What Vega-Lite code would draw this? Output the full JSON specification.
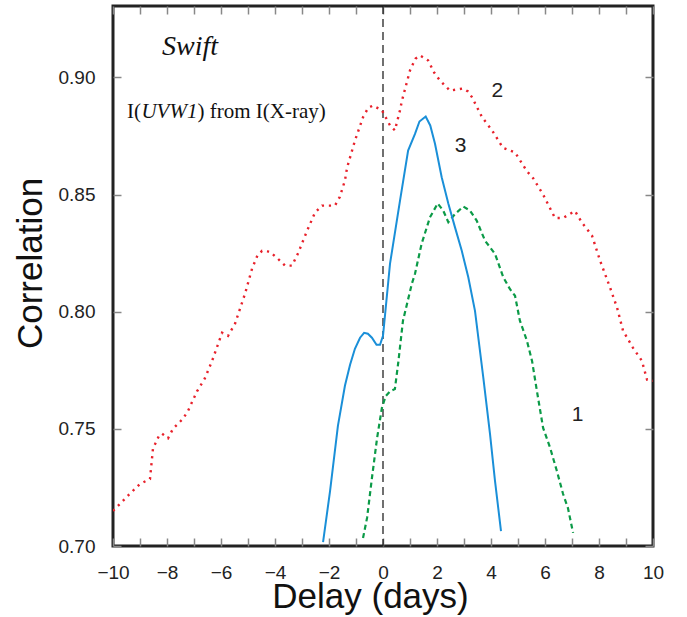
{
  "$schema": "https://vega.github.io/schema/vega-lite/v6.json",
  "width": 540,
  "height": 540,
  "autosize": {"type": "none"},
  "padding": {"left": 113, "top": 6, "right": 34, "bottom": 71},
  "background": "white",
  "config": {
    "view": {"stroke": "#222", "strokeWidth": 3},
    "axis": {
      "domain": false,
      "grid": false,
      "tickColor": "#888",
      "tickWidth": 1.5,
      "tickSize": 8,
      "offset": -8,
      "labelFont": "Liberation Sans",
      "labelFontSize": 19,
      "labelColor": "#222",
      "titleFont": "Liberation Sans",
      "titleFontSize": 35,
      "titleFontWeight": "normal",
      "titleColor": "#111"
    }
  },
  "datasets": {
    "curves": [
      {"s": "2", "x": -10, "y": 0.715}, {"s": "2", "x": -9.74, "y": 0.718}, {"s": "2", "x": -9.4, "y": 0.722},
      {"s": "2", "x": -9.0, "y": 0.7265}, {"s": "2", "x": -8.63, "y": 0.7286}, {"s": "2", "x": -8.52, "y": 0.7415},
      {"s": "2", "x": -8.3, "y": 0.747}, {"s": "2", "x": -8.19, "y": 0.748}, {"s": "2", "x": -7.96, "y": 0.746},
      {"s": "2", "x": -7.78, "y": 0.75}, {"s": "2", "x": -7.41, "y": 0.7543}, {"s": "2", "x": -7.22, "y": 0.7577},
      {"s": "2", "x": -6.89, "y": 0.766}, {"s": "2", "x": -6.6, "y": 0.7715}, {"s": "2", "x": -6.33, "y": 0.779},
      {"s": "2", "x": -5.96, "y": 0.791}, {"s": "2", "x": -5.74, "y": 0.7897}, {"s": "2", "x": -5.48, "y": 0.7949},
      {"s": "2", "x": -5.11, "y": 0.8077}, {"s": "2", "x": -4.85, "y": 0.8184}, {"s": "2", "x": -4.65, "y": 0.824},
      {"s": "2", "x": -4.48, "y": 0.826}, {"s": "2", "x": -4.19, "y": 0.8256}, {"s": "2", "x": -3.89, "y": 0.8226},
      {"s": "2", "x": -3.63, "y": 0.8197}, {"s": "2", "x": -3.37, "y": 0.8197}, {"s": "2", "x": -3.15, "y": 0.8248},
      {"s": "2", "x": -2.81, "y": 0.8346}, {"s": "2", "x": -2.52, "y": 0.8423}, {"s": "2", "x": -2.26, "y": 0.8453},
      {"s": "2", "x": -1.78, "y": 0.8453}, {"s": "2", "x": -1.6, "y": 0.849}, {"s": "2", "x": -1.41, "y": 0.856},
      {"s": "2", "x": -1.33, "y": 0.8615}, {"s": "2", "x": -1.04, "y": 0.873}, {"s": "2", "x": -0.74, "y": 0.883},
      {"s": "2", "x": -0.55, "y": 0.887}, {"s": "2", "x": -0.37, "y": 0.888}, {"s": "2", "x": -0.04, "y": 0.886},
      {"s": "2", "x": 0.26, "y": 0.8795}, {"s": "2", "x": 0.44, "y": 0.8774}, {"s": "2", "x": 0.63, "y": 0.886},
      {"s": "2", "x": 0.7, "y": 0.89}, {"s": "2", "x": 1.0, "y": 0.903}, {"s": "2", "x": 1.2, "y": 0.908},
      {"s": "2", "x": 1.37, "y": 0.9094}, {"s": "2", "x": 1.67, "y": 0.9073}, {"s": "2", "x": 1.9, "y": 0.902},
      {"s": "2", "x": 2.11, "y": 0.8987}, {"s": "2", "x": 2.48, "y": 0.8944}, {"s": "2", "x": 2.96, "y": 0.8953},
      {"s": "2", "x": 3.15, "y": 0.894}, {"s": "2", "x": 3.3, "y": 0.8915}, {"s": "2", "x": 3.67, "y": 0.883},
      {"s": "2", "x": 4.04, "y": 0.8774}, {"s": "2", "x": 4.44, "y": 0.87}, {"s": "2", "x": 4.89, "y": 0.868},
      {"s": "2", "x": 5.33, "y": 0.86}, {"s": "2", "x": 5.56, "y": 0.857}, {"s": "2", "x": 5.93, "y": 0.85},
      {"s": "2", "x": 6.37, "y": 0.84}, {"s": "2", "x": 6.67, "y": 0.84}, {"s": "2", "x": 7.11, "y": 0.843},
      {"s": "2", "x": 7.37, "y": 0.838}, {"s": "2", "x": 7.74, "y": 0.8325}, {"s": "2", "x": 8.04, "y": 0.8218},
      {"s": "2", "x": 8.41, "y": 0.8103}, {"s": "2", "x": 8.67, "y": 0.8017}, {"s": "2", "x": 8.89, "y": 0.7919},
      {"s": "2", "x": 9.26, "y": 0.7846}, {"s": "2", "x": 9.59, "y": 0.779}, {"s": "2", "x": 9.78, "y": 0.771},
      {"s": "2", "x": 10.0, "y": 0.7705},

      {"s": "3", "x": -2.22, "y": 0.7017}, {"s": "3", "x": -1.96, "y": 0.7235}, {"s": "3", "x": -1.67, "y": 0.7513},
      {"s": "3", "x": -1.41, "y": 0.7684}, {"s": "3", "x": -1.22, "y": 0.7774}, {"s": "3", "x": -1.04, "y": 0.7842},
      {"s": "3", "x": -0.85, "y": 0.7889}, {"s": "3", "x": -0.7, "y": 0.791}, {"s": "3", "x": -0.56, "y": 0.7906},
      {"s": "3", "x": -0.41, "y": 0.7889}, {"s": "3", "x": -0.24, "y": 0.7859}, {"s": "3", "x": -0.11, "y": 0.7859},
      {"s": "3", "x": 0.0, "y": 0.7897}, {"s": "3", "x": 0.26, "y": 0.8205}, {"s": "3", "x": 0.63, "y": 0.8474},
      {"s": "3", "x": 0.93, "y": 0.8688}, {"s": "3", "x": 1.185, "y": 0.8759}, {"s": "3", "x": 1.35, "y": 0.8812},
      {"s": "3", "x": 1.581, "y": 0.8833}, {"s": "3", "x": 1.75, "y": 0.8795}, {"s": "3", "x": 1.926, "y": 0.8717},
      {"s": "3", "x": 2.174, "y": 0.8574}, {"s": "3", "x": 2.419, "y": 0.8462}, {"s": "3", "x": 2.667, "y": 0.836},
      {"s": "3", "x": 2.915, "y": 0.8261}, {"s": "3", "x": 3.159, "y": 0.8147}, {"s": "3", "x": 3.407, "y": 0.8004},
      {"s": "3", "x": 3.715, "y": 0.7719}, {"s": "3", "x": 3.963, "y": 0.7479}, {"s": "3", "x": 4.148, "y": 0.7278},
      {"s": "3", "x": 4.37, "y": 0.7064},

      {"s": "1", "x": -0.74, "y": 0.7034}, {"s": "1", "x": -0.59, "y": 0.712}, {"s": "1", "x": -0.41, "y": 0.729},
      {"s": "1", "x": -0.22, "y": 0.746}, {"s": "1", "x": -0.04, "y": 0.759}, {"s": "1", "x": 0.1, "y": 0.764},
      {"s": "1", "x": 0.26, "y": 0.766}, {"s": "1", "x": 0.44, "y": 0.767}, {"s": "1", "x": 0.56, "y": 0.7778},
      {"s": "1", "x": 0.74, "y": 0.7962}, {"s": "1", "x": 1.07, "y": 0.812}, {"s": "1", "x": 1.185, "y": 0.8162},
      {"s": "1", "x": 1.43, "y": 0.829}, {"s": "1", "x": 1.74, "y": 0.8403}, {"s": "1", "x": 2.025, "y": 0.8462},
      {"s": "1", "x": 2.23, "y": 0.8432}, {"s": "1", "x": 2.42, "y": 0.8382}, {"s": "1", "x": 2.667, "y": 0.8417},
      {"s": "1", "x": 2.975, "y": 0.8449}, {"s": "1", "x": 3.22, "y": 0.8432}, {"s": "1", "x": 3.47, "y": 0.8389},
      {"s": "1", "x": 3.78, "y": 0.8303}, {"s": "1", "x": 4.15, "y": 0.8247}, {"s": "1", "x": 4.456, "y": 0.8147},
      {"s": "1", "x": 4.7, "y": 0.8097}, {"s": "1", "x": 4.89, "y": 0.8068}, {"s": "1", "x": 5.07, "y": 0.7962},
      {"s": "1", "x": 5.33, "y": 0.7876}, {"s": "1", "x": 5.52, "y": 0.779}, {"s": "1", "x": 5.7, "y": 0.7662},
      {"s": "1", "x": 5.93, "y": 0.7504}, {"s": "1", "x": 6.19, "y": 0.7419}, {"s": "1", "x": 6.44, "y": 0.732},
      {"s": "1", "x": 6.67, "y": 0.7222}, {"s": "1", "x": 6.85, "y": 0.7162}, {"s": "1", "x": 7.04, "y": 0.7056}
    ],
    "notes": [
      {"k": "title", "x": -7.15, "y": 0.9094, "t": "Swift"},
      {"k": "plain", "x": -9.4815, "y": 0.8825, "t": "I("},
      {"k": "ital", "x": -8.948, "y": 0.8825, "t": "UVW1"},
      {"k": "plain", "x": -6.87, "y": 0.8825, "t": ") from I(X-ray)"},
      {"k": "num", "x": 4.233, "y": 0.8944, "t": "2"},
      {"k": "num", "x": 2.878, "y": 0.8709, "t": "3"},
      {"k": "num", "x": 7.21, "y": 0.7559, "t": "1"}
    ]
  },
  "layer": [
    {
      "data": {"values": [{"x": 0, "y": 0.8}]},
      "mark": {"type": "point", "opacity": 0},
      "encoding": {
        "x": {
          "field": "x", "type": "quantitative",
          "scale": {"domain": [-10, 10], "nice": false, "zero": false},
          "axis": {"orient": "top", "values": [-10,-9,-8,-7,-6,-5,-4,-3,-2,-1,0,1,2,3,4,5,6,7,8,9,10], "labels": false, "title": null}
        },
        "y": {
          "field": "y", "type": "quantitative",
          "scale": {"domain": [0.7, 0.9305], "nice": false, "zero": false},
          "axis": {"orient": "right", "values": [0.7, 0.75, 0.8, 0.85, 0.9], "labels": false, "title": null}
        }
      }
    },
    {
      "data": {"values": [{"x": 0}]},
      "mark": {"type": "rule", "color": "#111", "strokeWidth": 1.2, "strokeDash": [8, 5]},
      "encoding": {
        "x": {"field": "x", "type": "quantitative", "scale": {"domain": [-10, 10], "nice": false, "zero": false}, "axis": null}
      }
    },
    {
      "data": {"name": "curves"},
      "transform": [{"filter": "datum.s === '2'"}],
      "mark": {"type": "line", "color": "#e8212b", "strokeWidth": 2.4, "strokeDash": [2.2, 4.8], "clip": true},
      "encoding": {
        "x": {
          "field": "x", "type": "quantitative",
          "scale": {"domain": [-10, 10], "nice": false, "zero": false},
          "axis": {
            "orient": "bottom",
            "values": [-10,-9,-8,-7,-6,-5,-4,-3,-2,-1,0,1,2,3,4,5,6,7,8,9,10],
            "labelExpr": "datum.value % 2 === 0 ? datum.label : ''",
            "labelPadding": 17,
            "labelBaseline": "top",
            "labelFlush": false,
            "title": "Delay (days)",
            "titleX": 257,
            "titleY": 69,
            "titleBaseline": "alphabetic",
            "titleAlign": "center"
          }
        },
        "y": {
          "field": "y", "type": "quantitative",
          "scale": {"domain": [0.7, 0.9305], "nice": false, "zero": false},
          "axis": {
            "orient": "left",
            "values": [0.7, 0.75, 0.8, 0.85, 0.9],
            "format": ".2f",
            "labelPadding": 18,
            "labelBaseline": "middle",
            "labelFlush": false,
            "title": "Correlation",
            "titleAngle": -90,
            "titleX": -91,
            "titleY": 257,
            "titleBaseline": "middle",
            "titleAlign": "center"
          }
        }
      }
    },
    {
      "data": {"name": "curves"},
      "transform": [{"filter": "datum.s === '1'"}],
      "mark": {"type": "line", "color": "#0b9a47", "strokeWidth": 2.2, "strokeDash": [5, 3.5], "clip": true},
      "encoding": {
        "x": {"field": "x", "type": "quantitative", "scale": {"domain": [-10, 10], "nice": false, "zero": false}, "axis": null},
        "y": {"field": "y", "type": "quantitative", "scale": {"domain": [0.7, 0.9305], "nice": false, "zero": false}, "axis": null}
      }
    },
    {
      "data": {"name": "curves"},
      "transform": [{"filter": "datum.s === '3'"}],
      "mark": {"type": "line", "color": "#1a8fd8", "strokeWidth": 2, "clip": true},
      "encoding": {
        "x": {"field": "x", "type": "quantitative", "scale": {"domain": [-10, 10], "nice": false, "zero": false}, "axis": null},
        "y": {"field": "y", "type": "quantitative", "scale": {"domain": [0.7, 0.9305], "nice": false, "zero": false}, "axis": null}
      }
    },
    {
      "data": {"name": "notes"},
      "transform": [{"filter": "datum.k === 'title'"}],
      "mark": {"type": "text", "font": "Liberation Serif", "fontStyle": "italic", "fontSize": 28, "align": "center", "baseline": "alphabetic", "color": "#111"},
      "encoding": {
        "x": {"field": "x", "type": "quantitative", "scale": {"domain": [-10, 10], "nice": false, "zero": false}, "axis": null},
        "y": {"field": "y", "type": "quantitative", "scale": {"domain": [0.7, 0.9305], "nice": false, "zero": false}, "axis": null},
        "text": {"field": "t"}
      }
    },
    {
      "data": {"name": "notes"},
      "transform": [{"filter": "datum.k === 'plain'"}],
      "mark": {"type": "text", "font": "Liberation Serif", "fontSize": 21, "align": "left", "baseline": "alphabetic", "color": "#111"},
      "encoding": {
        "x": {"field": "x", "type": "quantitative", "scale": {"domain": [-10, 10], "nice": false, "zero": false}, "axis": null},
        "y": {"field": "y", "type": "quantitative", "scale": {"domain": [0.7, 0.9305], "nice": false, "zero": false}, "axis": null},
        "text": {"field": "t"}
      }
    },
    {
      "data": {"name": "notes"},
      "transform": [{"filter": "datum.k === 'ital'"}],
      "mark": {"type": "text", "font": "Liberation Serif", "fontStyle": "italic", "fontSize": 21, "align": "left", "baseline": "alphabetic", "color": "#111"},
      "encoding": {
        "x": {"field": "x", "type": "quantitative", "scale": {"domain": [-10, 10], "nice": false, "zero": false}, "axis": null},
        "y": {"field": "y", "type": "quantitative", "scale": {"domain": [0.7, 0.9305], "nice": false, "zero": false}, "axis": null},
        "text": {"field": "t"}
      }
    },
    {
      "data": {"name": "notes"},
      "transform": [{"filter": "datum.k === 'num'"}],
      "mark": {"type": "text", "font": "Liberation Sans", "fontSize": 21, "align": "center", "baseline": "middle", "color": "#222"},
      "encoding": {
        "x": {"field": "x", "type": "quantitative", "scale": {"domain": [-10, 10], "nice": false, "zero": false}, "axis": null},
        "y": {"field": "y", "type": "quantitative", "scale": {"domain": [0.7, 0.9305], "nice": false, "zero": false}, "axis": null},
        "text": {"field": "t"}
      }
    }
  ]
}
